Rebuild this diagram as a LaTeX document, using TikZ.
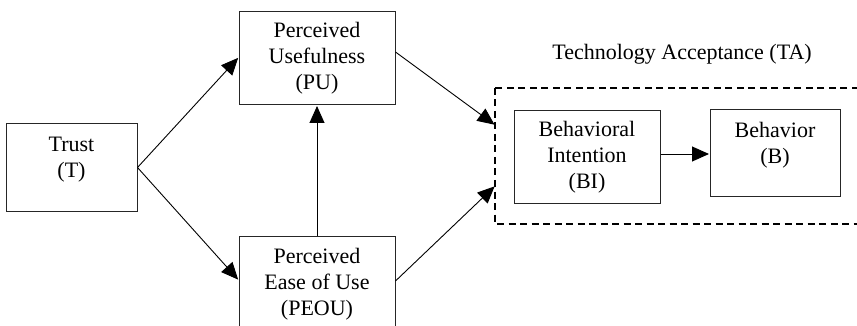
\documentclass[tikz,border=0pt]{standalone}
\usepackage{fontspec}
\setmainfont{Liberation Serif}
\usetikzlibrary{arrows.meta}
\begin{document}
\begin{tikzpicture}[x=1pt,y=-1pt,
  box/.style={draw=black!85, line width=1pt, minimum width=#1, inner sep=0pt},
  lbl/.style={align=center, font=\fontsize{22}{26}\selectfont, inner sep=0pt},
  arr/.style={-{Triangle[length=17pt,width=15pt]}, line width=0.9pt, shorten >=0.5pt},
  tabox/.style={draw, line width=2pt, dash pattern=on 7pt off 4.5pt}]
\clip (0,0) rectangle (857,326);
\fill[white] (0,0) rectangle (857,326);
% boxes
\node[box=131, minimum height=87] (trust) at (71.5,167.5) {};
\node[lbl] (trusttxt) at (71.5,160) {Trust\\(T)};
\node[box=156, minimum height=93, lbl] (pu) at (317,58.5) {Perceived\\Usefulness\\(PU)};
\node[box=156, minimum height=96, lbl] (peou) at (317,284) {Perceived\\Ease of Use\\(PEOU)};
\draw[tabox] (495,88) rectangle (880,224);
\coordinate (taA) at (495,125);
\coordinate (taB) at (495,186);
\node[lbl] (ta) at (682,54) {Technology Acceptance (TA)};
\node[box=146, minimum height=92, lbl] (bi) at (587,157) {Behavioral\\Intention\\(BI)};
\node[box=130, minimum height=86] (b) at (775,153) {};
\node[lbl] (btxt) at (775,145) {Behavior\\(B)};
% arrows
\draw[arr] (trust.east) -- ([yshift=1pt]pu.west);
\draw[arr] (trust.east) -- ([yshift=4pt]peou.west);
\draw[arr] (peou.north) -- (pu.south);
\draw[arr] ([yshift=6.5pt]pu.east) -- (taA);
\draw[arr] ([yshift=3pt]peou.east) -- (taB);
\draw[arr] ([yshift=3pt]bi.east) -- ([yshift=-1pt]b.west);
\end{tikzpicture}
\end{document}
